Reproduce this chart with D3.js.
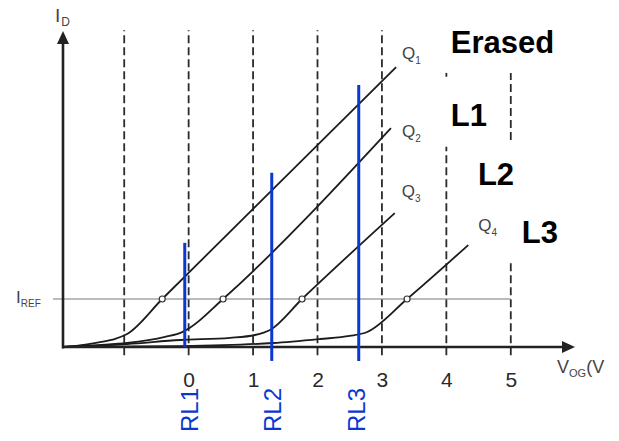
<!DOCTYPE html>
<html>
<head>
<meta charset="utf-8">
<script src="https://cdn.jsdelivr.net/npm/d3@7"></script>
<style>
  html, body { margin: 0; padding: 0; background: #fff; }
  svg { display: block; }
</style>
</head>
<body>
<svg id="chart" width="619" height="441"></svg>
<script>
// ---- data ----------------------------------------------------------
// Labelled gate-voltage ticks and the dashed vertical grid (V)
const xTicks = [0, 1, 2, 3, 4, 5];
const gridVolts = [-1, 0, 1, 2, 3, 4, 5];
// visible extent of each dashed line, as [I_low, I_high] runs
const gridSpans = [
  [[-0.17, 6.6]],
  [[-0.17, 6.6]],
  [[-0.17, 6.6]],
  [[-0.17, 6.6]],
  [[-0.17, 6.6]],
  [[-0.17, 4.17], [5.63, 5.71]],
  [[-0.17, 1.77], [4.31, 5.71]]
];

// Reference current level (drain current, arbitrary units)
const iRef = 1;

// Transfer curves I_D(V_OG) for the four cell states
const q1 = [[-1.95, 0], [-1.6, 0.05], [-1.375, 0.10], [-1.14, 0.17], [-0.956, 0.27], [-0.41, 1.0], [3.22, 5.83]];
const q2 = [[-1.95, 0], [-1.4, 0.04], [-0.955, 0.083], [-0.366, 0.21], [-0.10, 0.31], [0.02, 0.40], [0.534, 1.0], [3.14, 4.56]];
const q3 = [[-1.95, 0], [-0.955, 0.0625], [-0.133, 0.146], [0.643, 0.19], [1.03, 0.25], [1.263, 0.354], [1.76, 1.0], [3.20, 2.79]];
const q4 = [[-1.95, 0], [-0.133, 0.02], [1.31, 0.083], [2.04, 0.167], [2.50, 0.23], [2.77, 0.3125], [3.39, 1.0], [4.34, 2.125]];
const curveNames = ['1', '2', '3', '4'];

// Read levels applied to the control gate
const readNames = ['RL1', 'RL2', 'RL3'];
const readVolts = [-0.06, 1.29, 2.64];
const readTops = [2.17, 3.63, 5.46];
const readBottoms = [0, -0.29, -0.29];

// State names
const stateNames = ['Erased', 'L1', 'L2', 'L3'];

// ---- layout ---------------------------------------------------------
const W = 619, H = 441;
const FONT = "'Liberation Sans', Arial, Helvetica, sans-serif";
const svg = d3.select('#chart');
svg.append('rect').attr('width', W).attr('height', H).attr('fill', '#fff');

const x = d3.scaleLinear().domain([-1.95, 5.95]).range([63, 572]);
const y = d3.scaleLinear().domain([0, 6.5]).range([347, 35]);

// dashed voltage grid
const grid = svg.append('g').attr('class', 'grid');
gridVolts.forEach((v, i) => {
  gridSpans[i].forEach(([lo, hi]) => {
    grid.append('line')
      .attr('x1', x(v)).attr('x2', x(v))
      .attr('y1', y(lo)).attr('y2', y(hi))
      .attr('stroke', '#2b2b2b').attr('stroke-width', 1.8)
      .attr('stroke-dasharray', '8,4');
  });
});

// I_REF level
svg.append('line')
  .attr('x1', 53).attr('x2', x(5))
  .attr('y1', y(iRef)).attr('y2', y(iRef))
  .attr('stroke', '#777').attr('stroke-width', 1);

// transfer curves
const line = d3.line().x(d => x(d[0])).y(d => y(d[1])).curve(d3.curveMonotoneX);
const curves = [q1, q2, q3, q4];
svg.append('g').selectAll('path').data(curves).join('path')
  .attr('d', line)
  .attr('fill', 'none')
  .attr('stroke', '#1c1c1c')
  .attr('stroke-width', 1.8);

// markers where each curve crosses I_REF
svg.append('g').selectAll('circle')
  .data(curves.map(c => c.find(p => p[1] === iRef)))
  .join('circle')
  .attr('cx', d => x(d[0])).attr('cy', d => y(d[1]))
  .attr('r', 3)
  .attr('fill', '#fff').attr('stroke', '#333').attr('stroke-width', 1.2);

// axes
const axisColor = '#222';
svg.append('line')
  .attr('x1', x(-1.95)).attr('x2', x(-1.95))
  .attr('y1', y(0) + 1.5).attr('y2', 42)
  .attr('stroke', axisColor).attr('stroke-width', 2.6);
svg.append('path')
  .attr('d', `M${x(-1.95)},31 L${x(-1.95) - 6},44 L${x(-1.95) + 6},44 Z`)
  .attr('fill', axisColor);
svg.append('line')
  .attr('x1', x(-1.95) - 1).attr('x2', 564)
  .attr('y1', y(0)).attr('y2', y(0))
  .attr('stroke', axisColor).attr('stroke-width', 2.6);
svg.append('path')
  .attr('d', `M575,${y(0)} L562,${y(0) - 6} L562,${y(0) + 6} Z`)
  .attr('fill', axisColor);

// tick labels
const xAxis = d3.axisBottom(x).tickValues(xTicks).tickSize(0).tickPadding(25)
  .tickFormat(d3.format('d'));
const gx = svg.append('g').attr('transform', `translate(0,${y(0)})`).call(xAxis);
gx.select('.domain').remove();
gx.selectAll('text')
  .attr('font-family', FONT).attr('font-size', 21).attr('fill', '#2a2a2a');

// read-level markers
const blue = '#0a37d2';
svg.append('g').selectAll('line').data(readVolts).join('line')
  .attr('x1', d => x(d)).attr('x2', d => x(d))
  .attr('y1', (d, i) => y(readBottoms[i]))
  .attr('y2', (d, i) => y(readTops[i]))
  .attr('stroke', blue).attr('stroke-width', 3);
svg.append('g').selectAll('text').data(readNames).join('text')
  .attr('transform', (d, i) => `translate(${x(readVolts[i]) + [13, 9, 6][i]},388) rotate(-90)`)
  .attr('text-anchor', 'end')
  .attr('font-family', FONT).attr('font-size', 24)
  .attr('fill', blue)
  .text(d => d);

// curve labels Q1..Q4 placed off each curve's upper end
const qOffsets = [[6, -8], [11, 9], [7, -16], [10, -14]];
const qLabels = svg.append('g').selectAll('text').data(curves).join('text')
  .attr('x', (c, i) => x(c[c.length - 1][0]) + qOffsets[i][0])
  .attr('y', (c, i) => y(c[c.length - 1][1]) + qOffsets[i][1])
  .attr('font-family', FONT).attr('font-size', 17).attr('fill', '#444');
qLabels.append('tspan').text('Q');
qLabels.append('tspan').attr('font-size', 10).attr('dy', 5).text((c, i) => curveNames[i]);

// state labels
const statePos = [[4.07, 6.125], [4.07, 4.6], [4.49, 3.375], [5.17, 2.17]];
svg.append('g').selectAll('text').data(stateNames).join('text')
  .attr('x', (d, i) => x(statePos[i][0]))
  .attr('y', (d, i) => y(statePos[i][1]))
  .attr('font-family', FONT).attr('font-size', 31).attr('font-weight', 'bold')
  .attr('fill', '#000')
  .text(d => d);

// axis titles
const yTitle = svg.append('text')
  .attr('x', 55).attr('y', 22)
  .attr('font-family', FONT).attr('font-size', 19).attr('fill', '#444');
yTitle.append('tspan').text('I');
yTitle.append('tspan').attr('font-size', 12).attr('dy', 4).attr('dx', 1).text('D');

const refLabel = svg.append('text')
  .attr('x', 16).attr('y', y(iRef) + 4)
  .attr('font-family', FONT).attr('font-size', 17).attr('fill', '#444');
refLabel.append('tspan').text('I');
refLabel.append('tspan').attr('font-size', 10).attr('dy', 4).text('REF');

const xTitle = svg.append('text')
  .attr('x', 557).attr('y', 373)
  .attr('font-family', FONT).attr('font-size', 18).attr('fill', '#444');
xTitle.append('tspan').text('V');
xTitle.append('tspan').attr('font-size', 11).attr('dy', 4).text('OG');
xTitle.append('tspan').attr('dy', -4).text('(V');
</script>
</body>
</html>
